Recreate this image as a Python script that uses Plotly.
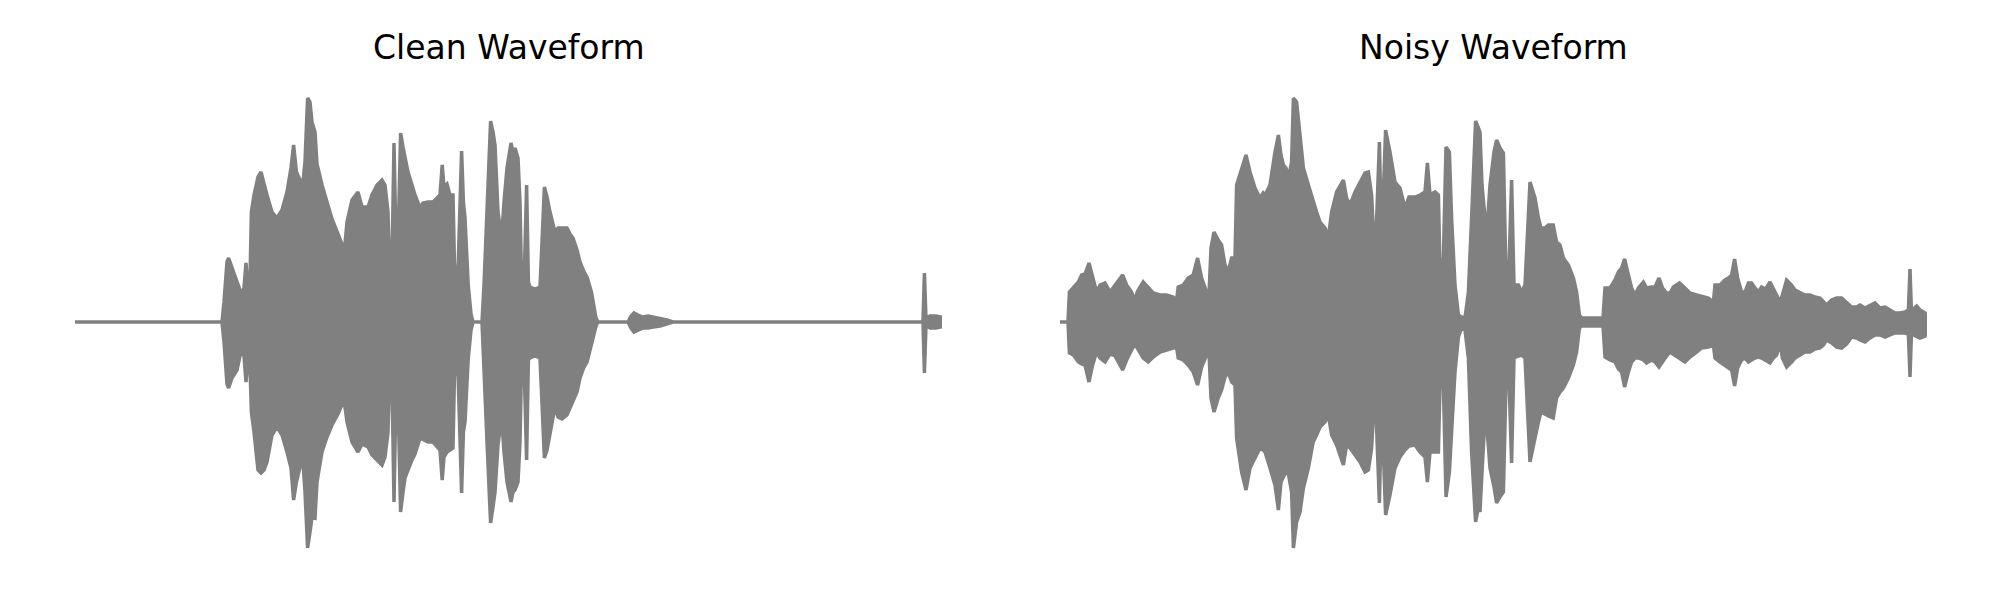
import plotly.graph_objects as go

# ---------------- data (envelope of the waveforms) ----------------
# time in milliseconds, amplitude in scaled sample units (full scale = 250)
titles = ["Clean Waveform", "Noisy Waveform"]
duration_ms = 4335

clean_t = [
    0, 735, 745, 760, 768, 785, 810, 825, 835, 845,
    855, 862, 875, 882, 895, 915, 930, 945, 960, 985,
    1010, 1035, 1060, 1080, 1093, 1107, 1125, 1140, 1150, 1163,
    1175, 1185, 1200, 1210, 1235, 1260, 1285, 1315, 1340, 1350,
    1360, 1385, 1415, 1435, 1465, 1485, 1510, 1535, 1550, 1565,
    1575, 1585, 1595, 1605, 1612, 1620, 1628, 1640, 1650, 1665,
    1685, 1700, 1725, 1740, 1765, 1790, 1825, 1836, 1845, 1860,
    1875, 1890, 1897, 1905, 1915, 1933, 1942, 1950, 1966, 1980,
    1990, 2035, 2045, 2060, 2078, 2090, 2100, 2115, 2133, 2145,
    2160, 2180, 2190, 2200, 2215, 2225, 2233, 2245, 2258, 2267,
    2275, 2300, 2325, 2335, 2347, 2360, 2375, 2400, 2415, 2435,
    2460, 2475, 2490, 2510, 2525, 2545, 2560, 2582, 2595, 2605,
    2615, 2765, 2780, 2795, 2815, 2840, 2865, 2890, 2925, 2960,
    2990, 4240, 4247, 4255, 4275, 4305, 4330, 4335,
]
clean_upper = [
    0, 0, 20, 60, 64, 55, 42, 32, 30, 34,
    59, 40, 42, 110, 127, 145, 150, 140, 127, 110,
    104, 112, 130, 154, 177, 150, 142, 140, 160, 224,
    220, 200, 190, 158, 137, 120, 103, 88, 75, 78,
    100, 122, 130, 115, 115, 127, 137, 142, 137, 110,
    40, 60, 179, 80, 60, 120, 189, 175, 164, 150,
    137, 127, 114, 119, 120, 120, 127, 157, 135, 138,
    127, 127, 60, 37, 50, 171, 120, 104, 37, 8,
    0, 0, 37, 120, 201, 190, 177, 110, 84, 120,
    154, 179, 170, 174, 164, 120, 37, 35, 137, 40,
    35, 33, 35, 80, 135, 125, 110, 90, 94, 94,
    94, 88, 84, 72, 60, 50, 45, 30, 15, 4,
    0, 0, 6, 9, 7, 5, 6, 5, 4, 2,
    0, 0, 49, 3, 6, 6, 5, 0,
]
clean_lower = [
    0, 0, -20, -62, -66, -56, -48, -34, -30, -34,
    -60, -44, -45, -90, -110, -148, -151, -148, -140, -113,
    -105, -113, -130, -146, -178, -160, -145, -140, -170, -226,
    -210, -195, -196, -160, -130, -115, -103, -92, -80, -85,
    -100, -120, -130, -122, -125, -133, -138, -143, -135, -110,
    -40, -60, -180, -70, -55, -120, -190, -170, -156, -148,
    -138, -132, -116, -118, -120, -120, -128, -158, -135, -130,
    -128, -126, -55, -40, -50, -171, -110, -100, -37, -8,
    0, 0, -37, -120, -201, -185, -170, -123, -95, -130,
    -160, -180, -170, -168, -160, -120, -40, -38, -138, -38,
    -36, -34, -36, -80, -136, -128, -113, -85, -95, -97,
    -93, -86, -80, -70, -56, -45, -40, -23, -12, -4,
    0, 0, -6, -10, -8, -6, -6, -5, -4, -2,
    0, 0, -51, -3, -6, -6, -5, 0,
]

noisy_t = [
    0, 40, 47, 67, 92, 108, 125, 145, 163, 183,
    200, 225, 250, 275, 313, 333, 358, 375, 386, 416,
    441, 466, 500, 533, 566, 583, 591, 616, 641, 666,
    688, 708, 733, 746, 755, 770, 791, 808, 825, 841,
    858, 875, 883, 908, 930, 950, 975, 1000, 1016, 1025,
    1050, 1075, 1092, 1105, 1117, 1130, 1142, 1158, 1167, 1183,
    1200, 1217, 1242, 1266, 1283, 1300, 1325, 1342, 1358, 1383,
    1400, 1417, 1433, 1450, 1475, 1500, 1525, 1542, 1558, 1575,
    1597, 1608, 1628, 1650, 1675, 1700, 1725, 1745, 1775, 1800,
    1825, 1837, 1850, 1875, 1892, 1900, 1917, 1930, 1947, 1958,
    1975, 1992, 2008, 2025, 2042, 2058, 2078, 2092, 2100, 2110,
    2125, 2133, 2150, 2170, 2183, 2200, 2217, 2230, 2242, 2258,
    2270, 2292, 2308, 2325, 2350, 2375, 2392, 2405, 2425, 2442,
    2466, 2483, 2500, 2517, 2542, 2567, 2583, 2597, 2608, 2715,
    2725, 2750, 2775, 2792, 2808, 2823, 2842, 2858, 2875, 2892,
    2917, 2933, 2958, 2975, 2995, 3013, 3033, 3050, 3067, 3097,
    3125, 3150, 3183, 3208, 3242, 3267, 3275, 3300, 3325, 3342,
    3358, 3373, 3388, 3408, 3425, 3442, 3458, 3475, 3492, 3508,
    3528, 3550, 3567, 3583, 3600, 3612, 3633, 3658, 3675, 3700,
    3725, 3750, 3775, 3800, 3817, 3833, 3858, 3883, 3908, 3933,
    3958, 3983, 4000, 4025, 4050, 4075, 4100, 4125, 4150, 4175,
    4200, 4225, 4242, 4250, 4257, 4267, 4283, 4300, 4325, 4335,
]
noisy_upper = [
    0, 0, 30, 34, 40, 47, 48, 59, 44, 30,
    37, 39, 30, 37, 47, 37, 30, 21, 30, 40,
    34, 29, 27, 27, 25, 22, 35, 37, 44, 47,
    64, 44, 30, 32, 74, 90, 82, 77, 57, 50,
    64, 64, 137, 154, 167, 150, 134, 124, 129, 127,
    137, 170, 187, 167, 157, 154, 144, 160, 224, 220,
    187, 154, 137, 120, 110, 100, 94, 85, 110, 130,
    137, 142, 124, 117, 130, 140, 149, 150, 127, 57,
    180, 80, 192, 170, 140, 134, 114, 125, 125, 127,
    130, 159, 127, 130, 127, 50, 64, 175, 170, 104,
    37, 7, 5, 4, 30, 104, 201, 194, 190, 137,
    97, 87, 137, 170, 182, 174, 169, 44, 35, 142,
    37, 37, 30, 37, 140, 124, 104, 94, 94, 97,
    97, 80, 77, 64, 57, 44, 30, 7, 4, 4,
    34, 34, 42, 50, 54, 63, 47, 34, 27, 34,
    40, 34, 35, 35, 44, 34, 29, 29, 35, 39,
    34, 29, 27, 26, 24, 20, 37, 37, 42, 44,
    47, 63, 44, 30, 30, 39, 39, 34, 30, 35,
    33, 40, 34, 27, 20, 27, 42, 37, 32, 29,
    27, 27, 25, 24, 20, 17, 22, 24, 24, 19,
    15, 15, 17, 14, 17, 19, 14, 15, 12, 9,
    9, 10, 12, 53, 12, 13, 16, 12, 9, 7,
]
noisy_lower = [
    0, 0, -31, -33, -40, -42, -43, -60, -43, -30,
    -36, -40, -32, -34, -48, -38, -28, -22, -26, -36,
    -40, -35, -30, -28, -26, -25, -36, -38, -43, -50,
    -63, -45, -33, -35, -76, -90, -76, -68, -55, -50,
    -60, -63, -116, -150, -168, -146, -136, -126, -128, -130,
    -146, -163, -188, -160, -155, -150, -152, -170, -226, -200,
    -190, -166, -146, -120, -113, -105, -100, -93, -113, -123,
    -133, -143, -123, -126, -133, -140, -150, -148, -126, -63,
    -181, -80, -193, -173, -146, -135, -128, -124, -123, -130,
    -135, -160, -130, -130, -130, -63, -63, -175, -150, -110,
    -50, -15, -6, -8, -36, -130, -200, -185, -190, -150,
    -96, -100, -146, -165, -181, -175, -170, -60, -36, -141,
    -36, -34, -33, -36, -140, -116, -100, -90, -92, -94,
    -96, -76, -70, -66, -56, -43, -30, -6, -4, -4,
    -35, -38, -40, -47, -50, -65, -50, -40, -36, -36,
    -38, -41, -38, -40, -45, -40, -34, -30, -32, -36,
    -40, -35, -30, -26, -25, -23, -36, -40, -43, -46,
    -48, -64, -46, -38, -36, -40, -38, -36, -35, -36,
    -38, -41, -36, -33, -21, -36, -45, -40, -36, -33,
    -30, -30, -27, -26, -23, -18, -21, -25, -26, -22,
    -15, -16, -18, -20, -16, -13, -13, -15, -13, -11,
    -11, -11, -12, -55, -12, -13, -14, -16, -14, -10,
]

assert len(clean_t) == len(clean_upper) == len(clean_lower)
assert len(noisy_t) == len(noisy_upper) == len(noisy_lower)

WAVE_COLOR = "#808080"


def envelope_trace(t, upper, lower, xaxis, yaxis):
    xs = list(t) + list(t)[::-1]
    ys = list(upper) + list(lower)[::-1]
    return go.Scatter(
        x=xs, y=ys, mode="lines", fill="toself",
        fillcolor=WAVE_COLOR,
        line=dict(color=WAVE_COLOR, width=3.5),
        hoverinfo="skip", showlegend=False,
        xaxis=xaxis, yaxis=yaxis,
    )


fig = go.Figure()
fig.add_trace(envelope_trace(clean_t, clean_upper, clean_lower, "x", "y"))
fig.add_trace(envelope_trace(noisy_t, noisy_upper, noisy_lower, "x2", "y2"))

axis_common = dict(visible=False, showgrid=False, zeroline=False, fixedrange=True)
# the page body has an 8 px default margin, so positions are shifted back by 8 px
dom1 = [67 / 2000, 934 / 2000]
dom2 = [1052 / 2000, 1919 / 2000]

title_font = dict(family="DejaVu Sans", size=33, color="black")

fig.update_layout(
    width=2000, height=600,
    margin=dict(l=0, r=0, t=64, b=36),
    paper_bgcolor="white", plot_bgcolor="white",
    showlegend=False,
    xaxis=dict(domain=dom1, range=[0, duration_ms], anchor="y", **axis_common),
    yaxis=dict(domain=[0, 1], range=[-250, 250], anchor="x", **axis_common),
    xaxis2=dict(domain=dom2, range=[0, duration_ms], anchor="y2", **axis_common),
    yaxis2=dict(domain=[0, 1], range=[-250, 250], anchor="x2", **axis_common),
    annotations=[
        dict(text=titles[0], x=sum(dom1) / 2, y=1.049, xref="paper", yref="paper",
             xanchor="center", yanchor="middle", showarrow=False, font=title_font),
        dict(text=titles[1], x=sum(dom2) / 2, y=1.049, xref="paper", yref="paper",
             xanchor="center", yanchor="middle", showarrow=False, font=title_font),
    ],
)

fig.write_html("out.html")
